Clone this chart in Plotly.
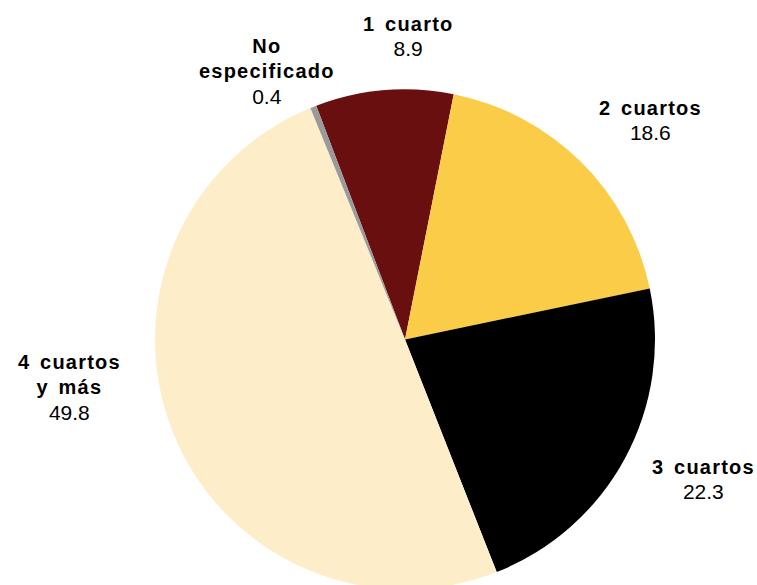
import plotly.graph_objects as go

# Distribución de viviendas por número de cuartos (%)
categorias = ["1 cuarto", "2 cuartos", "3 cuartos", "4 cuartos y más", "No especificado"]
porcentajes = [8.9, 18.6, 22.3, 49.8, 0.4]
colores = ["#6A0F0F", "#FACC48", "#000000", "#FDEDC9", "#9A9A9A"]

# Etiquetas: nombre partido en líneas y posición (px) del centro del bloque
lineas_nombre = {
    "1 cuarto": ["1 cuarto"],
    "2 cuartos": ["2 cuartos"],
    "3 cuartos": ["3 cuartos"],
    "4 cuartos y más": ["4 cuartos", "y más"],
    "No especificado": ["No", "especificado"],
}
pos_etiqueta = {
    "1 cuarto": (408, 36),
    "2 cuartos": (650, 121),
    "3 cuartos": (703, 479),
    "4 cuartos y más": (69, 387),
    "No especificado": (267, 72),
}

W, H = 757, 590
cx, cy, r = 405, 339.5, 250

fig = go.Figure(
    go.Pie(
        labels=categorias,
        values=porcentajes,
        marker=dict(colors=colores, line=dict(width=0)),
        sort=False,
        direction="clockwise",
        rotation=-20.8,
        textinfo="none",
        hoverinfo="label+value",
        domain=dict(x=[(cx - r) / W, (cx + r) / W], y=[1 - (cy + r) / H, 1 - (cy - r) / H]),
    )
)

estilo_nombre = "font-size:20px;letter-spacing:1.2px;word-spacing:3px"
estilo_valor = "font-size:21px"
for cat, val in zip(categorias, porcentajes):
    nombre = "<br>".join(
        f"<b><span style='{estilo_nombre}'>{ln}</span></b>" for ln in lineas_nombre[cat]
    )
    px, py = pos_etiqueta[cat]
    fig.add_annotation(
        x=px / W, y=1 - py / H, xref="paper", yref="paper",
        xanchor="center", yanchor="middle",
        text=f"{nombre}<br><span style='{estilo_valor}'>{val:.1f}</span>",
        showarrow=False, align="center",
        font=dict(family="Liberation Sans, Arial, sans-serif", size=19.5, color="#000000"),
    )

fig.update_layout(
    width=W, height=H,
    margin=dict(l=0, r=0, t=0, b=0),
    paper_bgcolor="white", plot_bgcolor="white",
    showlegend=False,
)

fig.write_html(
    "out.html",
    post_script="document.documentElement.style.overflow='hidden';"
                "document.body.style.overflow='hidden';document.body.style.margin='0';",
)
